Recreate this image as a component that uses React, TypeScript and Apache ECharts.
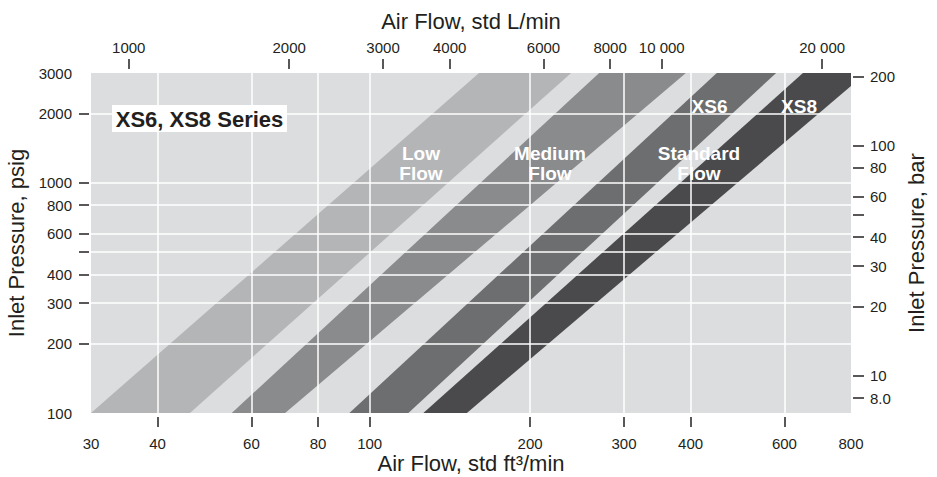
import React, { useEffect, useRef } from "react";
import * as echarts from "echarts";

// ---- data ----
const LPM_PER_CFM = 28.3168; // std L/min per std ft3/min
const PSI_PER_BAR = 14.5038;

const FLOW_MIN = 30; // std ft3/min
const FLOW_MAX = 800;
const P_MIN = 100; // psig
const P_MAX = 3000;

const flowTicks = [40, 60, 80, 100, 200, 300, 400, 600];
const flowLabels = [30, 40, 60, 80, 100, 200, 300, 400, 600, 800];
const lpmTicks = [1000, 2000, 3000, 4000, 6000, 8000, 10000, 20000];
const psigTicks = [200, 300, 400, 500, 600, 800, 1000, 2000];
const psigLabels = [100, 200, 300, 400, 600, 800, 1000, 2000, 3000];
const barTicks = [8, 10, 20, 30, 40, 50, 60, 80, 100, 200];
const barLabels = [8, 10, 20, 30, 40, 60, 80, 100, 200];

// flow bands: edge flows (std ft3/min) at 100 psig and at 3000 psig
const bandNames = ["Low Flow", "Medium Flow", "XS6 Standard Flow", "XS8 Standard Flow"];
const bandLeftAtPLow = [30.0, 55.1, 91.6, 126.1];
const bandRightAtPLow = [46.0, 69.4, 118.2, 152.2];
const bandLeftAtPHigh = [160.4, 269.5, 448, 650];
const bandRightAtPHigh = [238.8, 392, 579, 855];
const bandColors = ["#b4b5b7", "#8a8b8d", "#6d6e70", "#4a4a4c"];

const L = Math.log10;
const FONT = "Liberation Sans, Arial, Helvetica, sans-serif";
const TXT = "#231f20";

function fmtInt(v: number) {
  return String(Math.round(Math.pow(10, v)));
}
function fmtSpaced(v: number) {
  const n = Math.round(Math.pow(10, v));
  return n >= 10000 ? String(n).replace(/\B(?=(\d{3})+(?!\d))/g, " ") : String(n);
}
function fmtBar(v: number) {
  const n = Math.pow(10, v);
  return n < 9.5 ? n.toFixed(1) : String(Math.round(n));
}

export default function App() {
  const ref = useRef<HTMLDivElement>(null);
  useEffect(() => {
    if (!ref.current) return;
    const chart = echarts.init(ref.current, null, { renderer: "svg" });
    const tickStyle = { color: TXT, width: 1.5 };
    const labelBase = { color: TXT, fontSize: 15, lineHeight: 15, fontFamily: FONT };
    const nameStyle = { color: TXT, fontSize: 22, lineHeight: 22, fontFamily: FONT };
    const bandData = bandNames.map((name, i) => ({
      name,
      value: [L(bandLeftAtPLow[i]), L(bandRightAtPLow[i]), L(bandLeftAtPHigh[i]), L(bandRightAtPHigh[i])],
    }));
    const bandText = (text: string, x: number, y: number) => ({
      type: "text",
      z: 20,
      style: {
        text,
        x,
        y,
        align: "center",
        verticalAlign: "middle",
        fill: "#ffffff",
        font: `bold 19px ${FONT}`,
        lineHeight: 20,
      },
    });
    chart.setOption({
      animation: false,
      grid: {
        left: 91,
        top: 73,
        width: 760,
        height: 340,
        containLabel: false,
        outerBoundsMode: "none",
        show: true,
        backgroundColor: "#dcdddf",
        borderWidth: 0,
      },
      xAxis: [
        {
          type: "value",
          position: "bottom",
          min: L(FLOW_MIN),
          max: L(FLOW_MAX),
          offset: 4,
          z: 3,
          axisLine: { show: false },
          axisTick: { show: true, length: 10, customValues: flowTicks.map(L), lineStyle: tickStyle },
          axisLabel: { ...labelBase, customValues: flowLabels.map(L), formatter: fmtInt, margin: 19 },
          splitLine: { show: true, lineStyle: { color: "#ffffff", width: 1.5 } },
          name: "Air Flow, std ft³/min",
          nameLocation: "middle",
          nameGap: 35,
          nameMoveOverlap: false,
          nameTextStyle: nameStyle,
        },
        {
          type: "value",
          position: "top",
          min: L(FLOW_MIN * LPM_PER_CFM),
          max: L(FLOW_MAX * LPM_PER_CFM),
          offset: 4,
          z: 3,
          axisLine: { show: false },
          axisTick: { show: true, length: 10, customValues: lpmTicks.map(L), lineStyle: tickStyle },
          axisLabel: { ...labelBase, customValues: lpmTicks.map(L), formatter: fmtSpaced, margin: 14 },
          splitLine: { show: false },
          name: "Air Flow, std L/min",
          nameLocation: "middle",
          nameGap: 37,
          nameTextStyle: nameStyle,
        },
      ],
      yAxis: [
        {
          type: "value",
          position: "left",
          min: L(P_MIN),
          max: L(P_MAX),
          offset: 2,
          z: 3,
          axisLine: { show: false },
          axisTick: { show: true, length: 10, customValues: psigTicks.map(L), lineStyle: tickStyle },
          axisLabel: { ...labelBase, customValues: psigLabels.map(L), formatter: fmtInt, margin: 17 },
          splitLine: { show: true, lineStyle: { color: "#ffffff", width: 1.5 } },
          name: "Inlet Pressure, psig",
          nameLocation: "middle",
          nameGap: 50,
          nameTextStyle: nameStyle,
        },
        {
          type: "value",
          position: "right",
          min: L(P_MIN / PSI_PER_BAR),
          max: L(P_MAX / PSI_PER_BAR),
          offset: 2,
          z: 3,
          axisLine: { show: false },
          axisTick: { show: true, length: 11, customValues: barTicks.map(L), lineStyle: tickStyle },
          axisLabel: { ...labelBase, customValues: barLabels.map(L), formatter: fmtBar, margin: 17 },
          splitLine: { show: false },
          name: "Inlet Pressure, bar",
          nameLocation: "middle",
          nameGap: 49,
          nameTextStyle: nameStyle,
        },
      ],
      series: [
        {
          type: "custom",
          name: "Flow bands",
          coordinateSystem: "cartesian2d",
          xAxisIndex: 0,
          yAxisIndex: 0,
          clip: true,
          z: 1,
          silent: true,
          data: bandData,
          renderItem: (params: any, api: any) => {
            const lo = L(P_MIN);
            const hi = L(P_MAX);
            const pts = [
              api.coord([api.value(0), lo]),
              api.coord([api.value(1), lo]),
              api.coord([api.value(3), hi]),
              api.coord([api.value(2), hi]),
            ];
            return {
              type: "polygon",
              shape: { points: pts },
              style: { fill: bandColors[params.dataIndex], stroke: null },
            };
          },
        },
      ],
      graphic: [
        {
          type: "rect",
          z: 19,
          shape: { x: 112, y: 105, width: 175, height: 27 },
          style: { fill: "#ffffff" },
        },
        {
          type: "text",
          z: 20,
          style: {
            text: "XS6, XS8 Series",
            x: 199.5,
            y: 119,
            align: "center",
            verticalAlign: "middle",
            fill: TXT,
            font: `bold 22px ${FONT}`,
          },
        },
        bandText("Low\nFlow", 421, 163),
        bandText("Medium\nFlow", 550, 163),
        bandText("Standard\nFlow", 699, 163),
        bandText("XS6", 709.5, 106),
        bandText("XS8", 799, 106),
      ],
    });
    return () => chart.dispose();
  }, []);
  return (
    <div
      ref={ref}
      style={{ position: "absolute", left: 0, top: 0, width: 937, height: 477 }}
    />
  );
}
